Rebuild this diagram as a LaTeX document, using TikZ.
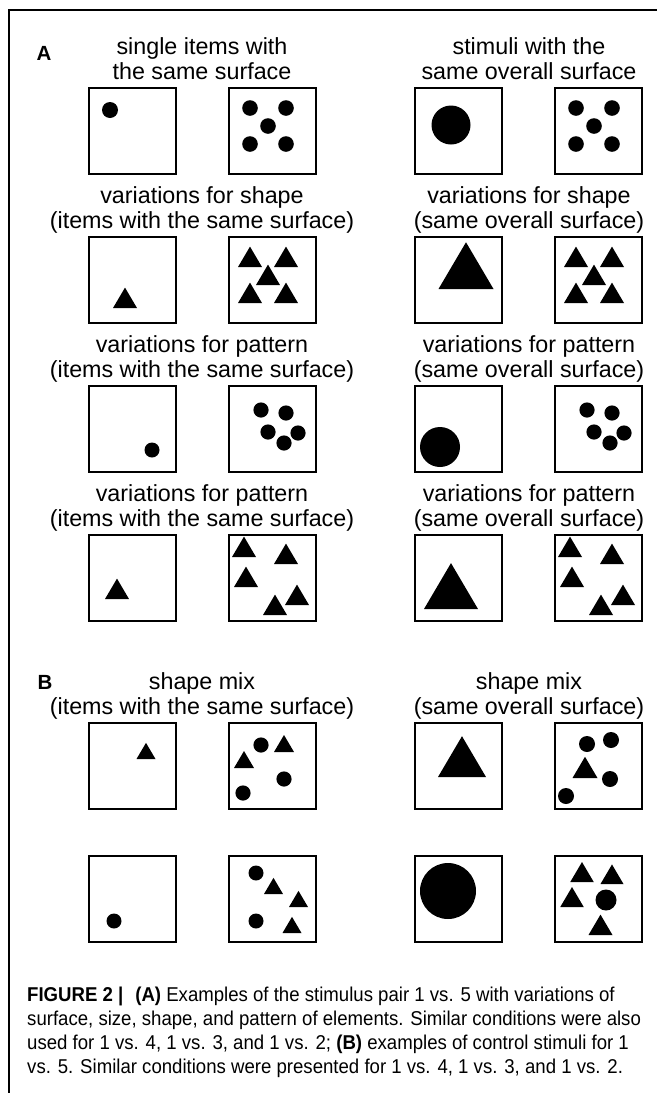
\documentclass[tikz,border=0pt]{standalone}
\usepackage{fontspec}
\setmainfont{Liberation Sans}
\newfontfamily\capfont[FakeStretch=0.93]{Liberation Sans}

\tikzset{
  stimbox/.style={draw, line width=1.8pt, minimum width=87pt, minimum height=86pt, inner sep=0pt, anchor=north west},
  head/.style={font=\fontsize{23.3}{25}\selectfont, inner sep=0pt, anchor=base},
  panel/.style={font=\fontsize{20.5}{20.5}\selectfont\bfseries, inner sep=0pt, anchor=base},
  capnote/.style={font=\capfont\fontsize{20}{24}\selectfont, align=left, inner sep=0pt, anchor=base west},
}
\newcommand{\stimtri}[3]{\fill ({#1-#3/2},#2) -- ({#1+#3/2},#2) -- ({#1},{#2-0.85*#3}) -- cycle;}

\begin{document}
\begin{tikzpicture}[x=1pt,y=-1pt]
	\useasboundingbox (0,0) rectangle (657,1093);
	\draw[line width=1.2pt] (9,1093) -- (9,10) -- (657,10);
	\foreach \r/\y in {1/87,2/236,3/385,4/534,5/722,6/855}
		\foreach \c/\x in {1/88,2/228,3/414,4/554}
			\node[stimbox] (b\r\c) at (\x,\y) {};
	% headings
	\node[panel] (lblA) at (44,60) {A};
	\node[head] (h1a) at (202,54) {single items with};
	\node[head] (h1b) at (202,79) {the same surface};
	\node[head] (h1c) at (529,54) {stimuli with the};
	\node[head] (h1d) at (529,79) {same overall surface};
	\node[head] (h2a) at (202,203) {variations for shape};
	\node[head] (h2b) at (202,228) {(items with the same surface)};
	\node[head] (h2c) at (529,203) {variations for shape};
	\node[head] (h2d) at (529,228) {(same overall surface)};
	\node[head] (h3a) at (202,352) {variations for pattern};
	\node[head] (h3b) at (202,377) {(items with the same surface)};
	\node[head] (h3c) at (529,352) {variations for pattern};
	\node[head] (h3d) at (529,377) {(same overall surface)};
	\node[head] (h4a) at (202,501) {variations for pattern};
	\node[head] (h4b) at (202,526) {(items with the same surface)};
	\node[head] (h4c) at (529,501) {variations for pattern};
	\node[head] (h4d) at (529,526) {(same overall surface)};
	\node[panel] (lblB) at (45,689) {B};
	\node[head] (h5a) at (202,689) {shape mix};
	\node[head] (h5b) at (202,714) {(items with the same surface)};
	\node[head] (h5c) at (529,689) {shape mix};
	\node[head] (h5d) at (529,714) {(same overall surface)};
	% row 1
	\fill (110,110) circle[radius=8];
	\fill (451,125) circle[radius=19.5];
	\foreach \o in {0,326}
		\foreach \px/\py in {250/108,286/108,268/126,250/144,286/144}
			\fill ({\px+\o},\py) circle[radius=7.8];
	% row 2
	\stimtri{125}{308}{24}
	\stimtri{466}{289}{55}
	\foreach \o in {0,326}
		\foreach \px/\py in {250/267,286/267,268/285,250/303,286/303}
			{\stimtri{\px+\o}{\py}{24}}
	% row 3
	\fill (152,450) circle[radius=7.5];
	\fill (440,447) circle[radius=20];
	\foreach \o in {0,326}
		\foreach \px/\py in {261/410,286/413,268/432,298/433,284/443}
			\fill ({\px+\o},\py) circle[radius=7.6];
	% row 4
	\stimtri{117}{599}{24}
	\stimtri{451}{609}{54}
	\foreach \o in {0,326}
		\foreach \px/\py in {244/557,286/564,246/587,297/605,275/615}
			{\stimtri{\px+\o}{\py}{24}}
	% row 5
	\stimtri{146}{759}{19}
	\stimtri{462}{777}{48}
	\stimtri{244}{768}{20}
	\stimtri{284}{752}{20}
	\foreach \px/\py in {261/745,284/779,243/793}
		\fill (\px,\py) circle[radius=7.6];
	\foreach \px/\py in {587/744,611/740,610/779,566/796}
		\fill (\px,\py) circle[radius=8];
	\stimtri{585}{778}{25}
	% row 6
	\fill (114,921) circle[radius=7.5];
	\fill (256,873) circle[radius=7.5];
	\fill (256,921) circle[radius=7.5];
	\stimtri{273.5}{894}{19}
	\stimtri{298.5}{907}{19}
	\stimtri{292}{933}{19}
	\fill (448,891) circle[radius=28];
	\stimtri{582}{882}{23.5}
	\stimtri{612}{884}{23}
	\stimtri{572}{907}{23.5}
	\stimtri{600.5}{935}{24}
	\fill (606,900) circle[radius=10.5];
	% caption
	\node[capnote] (cap) at (27,1073) {\textbf{FIGURE 2 |}\hspace{0.6em}\textbf{(A)} Examples of the stimulus pair 1 vs. 5 with variations of\\
		surface, size, shape, and pattern of elements. Similar conditions were also\\
		used for 1 vs. 4, 1 vs. 3, and 1 vs. 2; \textbf{(B)} examples of control stimuli for 1\\
		vs. 5. Similar conditions were presented for 1 vs. 4, 1 vs. 3, and 1 vs. 2.};
\end{tikzpicture}
\end{document}
